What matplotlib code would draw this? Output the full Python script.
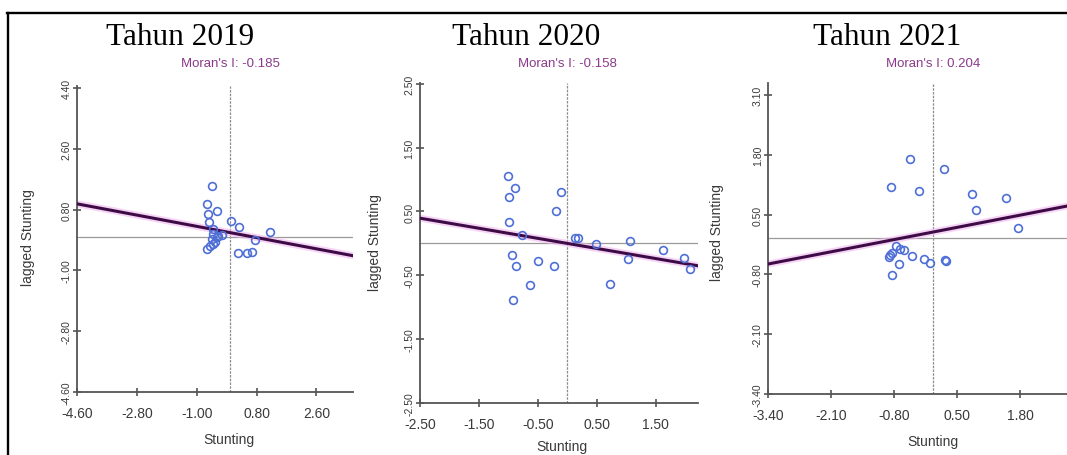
import matplotlib
matplotlib.use("Agg")
import matplotlib.pyplot as plt
from matplotlib.lines import Line2D

# ---- data (standardised stunting vs spatial lag) ----
years = ["Tahun 2019", "Tahun 2020", "Tahun 2021"]
moran_i = [-0.185, -0.158, 0.204]
intercepts = [0.12, 0.0, 0.12]

x19 = [-0.55, -0.70, -0.65, -0.40, -0.62, 0.03, 0.28, 1.20, 0.75, -0.52, -0.50,
       -0.55, -0.40, -0.25, -0.50, -0.60, -0.70, 0.25, 0.50, 0.65, -0.45, -0.35]
y19 = [1.51, 0.97, 0.68, 0.75, 0.43, 0.45, 0.29, 0.14, -0.11, 0.24, 0.09,
       -0.06, -0.01, 0.04, -0.21, -0.27, -0.37, -0.48, -0.48, -0.45, -0.15, 0.02]

x20 = [-1.01, -0.89, -0.99, -0.10, -0.19, -0.99, -0.77, 0.14, 0.19, 0.49, 1.06,
       -0.94, -0.87, -0.49, -0.22, -0.63, -0.92, 0.72, 1.03, 1.62, 1.98, 2.08]
y20 = [1.05, 0.86, 0.72, 0.81, 0.50, 0.34, 0.13, 0.08, 0.08, -0.01, 0.03,
       -0.18, -0.35, -0.28, -0.35, -0.65, -0.88, -0.64, -0.24, -0.11, -0.23, -0.40]

x21 = [-0.47, 0.23, -0.86, -0.28, 0.81, 1.51, 0.89, 1.76, -0.77, -0.67, -0.60,
       -0.84, -0.90, -0.44, -0.19, -0.07, 0.25, 0.27, -0.70, -0.85, -0.88]
y21 = [1.71, 1.50, 1.10, 1.01, 0.95, 0.86, 0.60, 0.20, -0.19, -0.24, -0.26,
       -0.33, -0.43, -0.41, -0.46, -0.55, -0.48, -0.51, -0.57, -0.81, -0.38]

xs = [x19, x20, x21]
ys = [y19, y20, y21]

xticks = [[-4.6, -2.8, -1.0, 0.8, 2.6],
          [-2.5, -1.5, -0.5, 0.5, 1.5],
          [-3.4, -2.1, -0.8, 0.5, 1.8]]
yticks = [[-4.6, -2.8, -1.0, 0.8, 2.6, 4.4],
          [-2.5, -1.5, -0.5, 0.5, 1.5, 2.5],
          [-3.4, -2.1, -0.8, 0.5, 1.8, 3.1]]
xlims = [(-4.6, 3.7), (-2.5, 2.22), (-3.4, 2.77)]
ylims = [(-4.6, 4.46), (-2.5, 2.52), (-3.4, 3.36)]

# ---- layout in pixels (figure is 1067 x 456) ----
W, H = 1067, 456
# left, right, top, bottom of each plot area
boxes = [(77, 353, 87, 393), (420, 698, 83.5, 404), (768.3, 1067, 84, 395)]
title_x = [180, 526, 887]
xlabel_pos = [(229, 440), (562, 447), (933, 442)]
ylabel_pos = [(28, 238), (375, 243), (717, 233)]

axis_col = "#555555"
text_col = "#3a3a3a"
pt_col = "#4f6fd6"

fig = plt.figure(figsize=(W / 100, H / 100), dpi=100)
fig.patch.set_facecolor("white")

for i in range(3):
    l, r, t, b = boxes[i]
    ax = fig.add_axes([l / W, 1 - b / H, (r - l) / W, (b - t) / H])
    ax.set_xlim(*xlims[i])
    ax.set_ylim(*ylims[i])
    for s in ["top", "right"]:
        ax.spines[s].set_visible(False)
    for s in ["left", "bottom"]:
        ax.spines[s].set_color(axis_col)
        ax.spines[s].set_linewidth(1.3)

    ax.set_xticks(xticks[i])
    ax.set_yticks(yticks[i])
    ax.set_xticklabels(["%.2f" % v for v in xticks[i]])
    ax.set_yticklabels(["%.2f" % v for v in yticks[i]], rotation=90, va="center")
    ax.tick_params(axis="both", direction="inout", length=6, width=1.2,
                   color=axis_col, labelcolor=text_col)
    ax.tick_params(axis="x", labelsize=10, pad=7)
    ax.tick_params(axis="y", labelsize=7.5, pad=1)
    for lab in ax.get_xticklabels() + ax.get_yticklabels():
        lab.set_family("Liberation Sans")

    # mean lines
    ax.axvline(0, color="#8c8c8c", lw=0.9, ls=(0, (2, 1)), zorder=1)
    ax.axhline(0, color="#9a9a9a", lw=0.9, zorder=1)

    # regression line with a pink halo
    ax.axline((0, intercepts[i]), slope=moran_i[i], color="#f2b8f0", lw=5,
              alpha=0.6, zorder=2)
    ax.axline((0, intercepts[i]), slope=moran_i[i], color="#3d0b45", lw=2.2,
              zorder=3)

    ax.plot(xs[i], ys[i], ls="none", marker="o", ms=5.6, mfc="none",
            mec=pt_col, mew=1.2, zorder=4)

    ax.set_xlabel("Stunting", fontsize=10, color=text_col, family="Liberation Sans")
    ax.set_ylabel("lagged Stunting", fontsize=10, color=text_col,
                  family="Liberation Sans")
    xlx, xly = xlabel_pos[i]
    ylx, yly = ylabel_pos[i]
    ax.xaxis.set_label_coords((xlx - l) / (r - l), (b - xly) / (b - t))
    ax.yaxis.set_label_coords((ylx - l) / (r - l), (b - yly) / (b - t))
    ax.xaxis.label.set_va("center")
    ax.yaxis.label.set_va("center")

    # Moran's I caption centred over x = 0
    x0_px = l + (0 - xlims[i][0]) / (xlims[i][1] - xlims[i][0]) * (r - l)
    fig.text(x0_px / W, 1 - 64 / H, "Moran's I: %.3f" % moran_i[i],
             ha="center", va="center", fontsize=9.5, color="#8b3a8b",
             family="Liberation Sans")

    fig.text(title_x[i] / W, 1 - 45 / H, years[i], ha="center", va="baseline",
             fontsize=22.5, family="Liberation Serif", color="black")

# table-cell border (top and left)
fig.add_artist(Line2D([7 / W, 1], [1 - 13.5 / H, 1 - 13.5 / H], color="black",
                      lw=1.7, transform=fig.transFigure))
fig.add_artist(Line2D([7.5 / W, 7.5 / W], [0, 1 - 13.5 / H], color="black",
                      lw=1.7, transform=fig.transFigure))

fig.savefig("out.png", dpi=100)
